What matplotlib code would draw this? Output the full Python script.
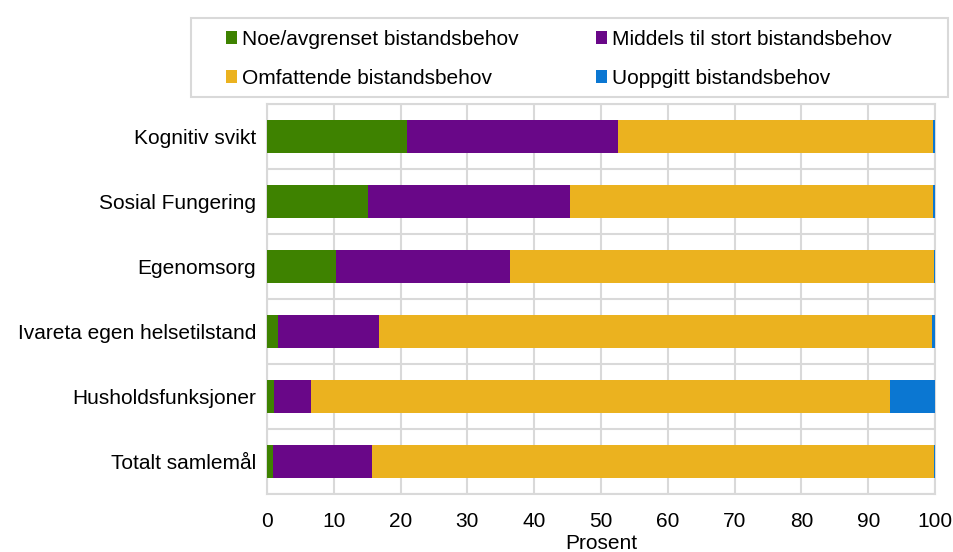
import matplotlib
matplotlib.use("Agg")
import matplotlib.pyplot as plt
from matplotlib.patches import Rectangle
import numpy as np

plt.rcParams['font.family'] = ['Liberation Sans', 'DejaVu Sans']

categories = ["Kognitiv svikt", "Sosial Fungering", "Egenomsorg",
              "Ivareta egen helsetilstand", "Husholdsfunksjoner", "Totalt samlemål"]
series_names = ["Noe/avgrenset bistandsbehov", "Middels til stort bistandsbehov",
                "Omfattende bistandsbehov", "Uoppgitt bistandsbehov"]
noe = [21.0, 15.1, 10.4, 1.7, 1.1, 0.9]
middels = [31.5, 30.3, 26.0, 15.1, 5.5, 14.8]
omfattende = [47.2, 54.3, 63.4, 82.7, 86.7, 84.1]
uoppgitt = [0.3, 0.3, 0.2, 0.5, 6.7, 0.2]
colors = ["#3E8200", "#690788", "#EBB21F", "#0B77D2"]
xticks = list(range(0, 101, 10))

FS = 15
fig = plt.figure(figsize=(9.54, 5.52), dpi=100)
ax = fig.add_axes([267/954, 1-494/552, (935-267)/954, (494-104)/552])

y = np.arange(len(categories))
left = np.zeros(len(categories))
handles = []
for vals, name, c in zip([noe, middels, omfattende, uoppgitt], series_names, colors):
    h = ax.barh(y, vals, left=left, height=0.5, color=c, label=name, zorder=3)
    handles.append(h)
    left += np.array(vals)

ax.set_xlim(0, 100)
ax.set_ylim(len(categories) - 0.5, -0.5)
ax.set_xticks(xticks)
ax.set_xticklabels([str(t) for t in xticks], fontsize=FS)
ax.set_yticks(y)
ax.set_yticklabels(categories, fontsize=FS)
ax.set_yticks(np.arange(len(categories) + 1) - 0.5, minor=True)
ax.tick_params(axis='both', which='both', length=0)
ax.tick_params(axis='x', pad=13)
ax.tick_params(axis='y', pad=8)
ax.grid(axis='x', which='major', color='#d9d9d9', linewidth=1.5, zorder=0)
ax.grid(axis='y', which='minor', color='#d9d9d9', linewidth=1.5, zorder=0)
for s in ax.spines.values():
    s.set_color('#d9d9d9')
    s.set_linewidth(1.5)
ax.set_xlabel("Prosent", fontsize=FS, labelpad=2)

# row-wise legend order: (Noe, Middels) / (Omfattende, Uoppgitt)
order = [0, 2, 1, 3]
leg = fig.legend(handles=[handles[i] for i in order],
                 labels=[series_names[i] for i in order], ncol=2,
                 loc='upper left', bbox_to_anchor=(226/954, 1-30/552),
                 fontsize=FS, frameon=False,
                 handlelength=0.53, handleheight=0.53, handletextpad=0.25,
                 columnspacing=3.7, borderpad=0, labelspacing=0.95,
                 borderaxespad=0)
fig.patches.append(Rectangle((191/954, 1-97/552), (948-191)/954, (97-18)/552,
                             transform=fig.transFigure, fill=False,
                             edgecolor='#d9d9d9', linewidth=1.5))

fig.savefig("out.png", dpi=100)
